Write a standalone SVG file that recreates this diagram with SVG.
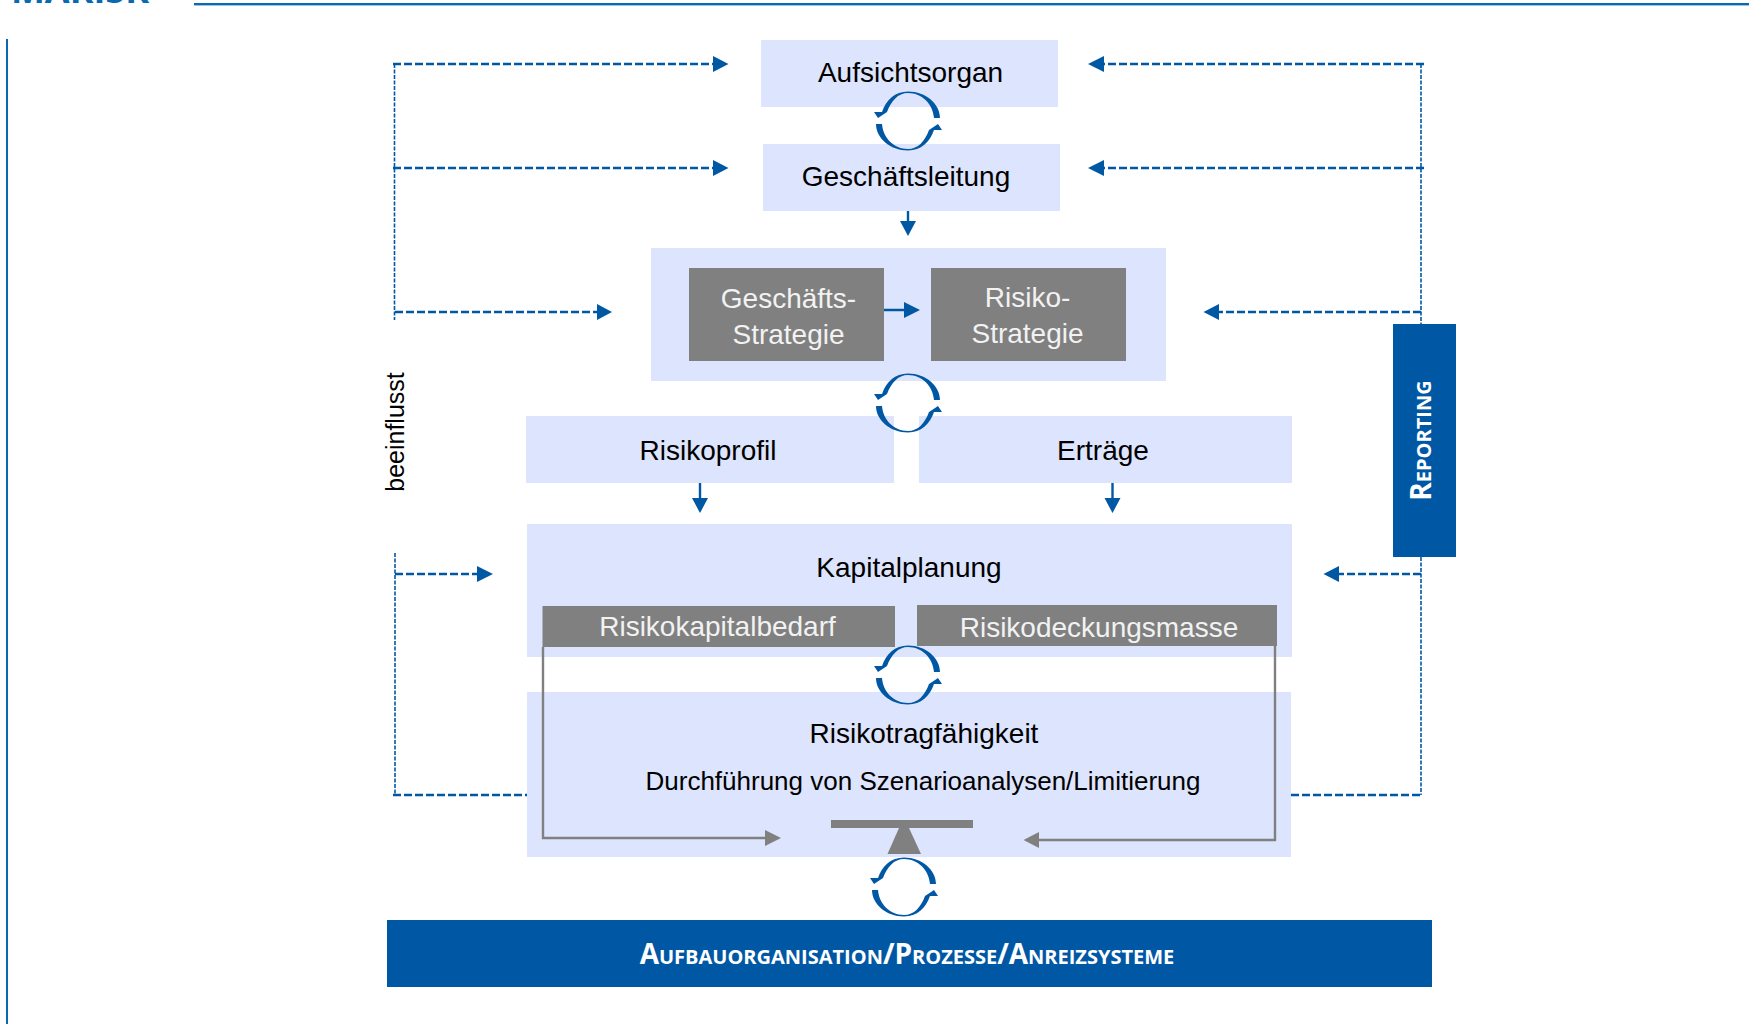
<svg xmlns="http://www.w3.org/2000/svg" width="1749" height="1024" viewBox="0 0 1749 1024">
<style>
text{font-family:"Liberation Sans",Arial,sans-serif;text-anchor:middle}
.lb{fill:#dde4fd}.gr{fill:#808080}.bl{fill:#0058a5}
.t{font-size:28px;fill:#000}.w{font-size:28px;fill:#f2f2f2}
.sc{font-family:"Open Sans","Noto Sans",sans-serif;font-weight:700;font-variant:small-caps;fill:#fff;font-size:28px}
.dash{fill:none;stroke:#0058a5;stroke-width:2.6;stroke-dasharray:8 3}
.dot{fill:none;stroke:#0058a5;stroke-width:1.6;stroke-dasharray:4 1.5}
.sol{fill:none;stroke:#0058a5;stroke-width:2.4}
.g{fill:none;stroke:#808080;stroke-width:2.4}
</style>
<defs>
<g id="half"><path class="bl" d="M32,-3 C32,-17 18,-29.5 0,-29.5 C-13,-29.5 -22,-21 -26,-9 L-34,-9 L-30,-3 L-21,-9 C-17,-20 -10,-28 0,-28 C14,-28 25,-17 26,-3Z"/></g>
<g id="cycle"><use href="#half"/><use href="#half" transform="rotate(180)"/></g>
</defs>
<text x="80" y="3" style="font-family:'Open Sans',sans-serif;font-weight:700;font-size:36px;fill:#0a6ab0">MARISK</text>
<rect x="194" y="3" width="1555" height="2.4" fill="#0a6ab0"/>
<rect x="6" y="39" width="2" height="985" fill="#0a6ab0"/>

<g id="n-aufsichtsorgan"><rect class="lb" x="761" y="40" width="297" height="67"/><text class="t" x="910.5" y="82">Aufsichtsorgan</text></g>
<g id="n-geschaeftsleitung"><rect class="lb" x="763" y="144" width="297" height="67"/><text class="t" x="906" y="186">Geschäftsleitung</text></g>
<g id="n-strategie"><rect class="lb" x="651" y="248" width="515" height="133"/></g>
<g id="n-geschaeftsstrategie"><rect class="gr" x="689" y="268" width="195" height="93"/><text class="w" x="788.5" y="308">Geschäfts-</text><text class="w" x="788.5" y="344">Strategie</text></g>
<g id="n-risikostrategie"><rect class="gr" x="931" y="268" width="195" height="93"/><text class="w" x="1027.5" y="307">Risiko-</text><text class="w" x="1027.5" y="343">Strategie</text></g>
<g id="n-risikoprofil"><rect class="lb" x="526" y="416" width="368" height="67"/><text class="t" x="708" y="460">Risikoprofil</text></g>
<g id="n-ertraege"><rect class="lb" x="919" y="416" width="373" height="67"/><text class="t" x="1103" y="460">Erträge</text></g>
<g id="n-kapitalplanung"><rect class="lb" x="527" y="524" width="765" height="133"/><text class="t" x="909" y="577">Kapitalplanung</text></g>
<g id="n-risikotragfaehigkeit"><rect class="lb" x="527" y="692" width="764" height="165"/><text class="t" x="924" y="743">Risikotragfähigkeit</text><text class="t" style="font-size:26px" x="923" y="790">Durchführung von Szenarioanalysen/Limitierung</text></g>
<g id="n-risikokapitalbedarf"><rect class="gr" x="542.5" y="606" width="352.5" height="41"/><text class="w" x="717.5" y="636">Risikokapitalbedarf</text></g>
<g id="n-risikodeckungsmasse"><rect class="gr" x="917" y="605" width="360" height="41"/><text class="w" x="1099" y="637">Risikodeckungsmasse</text></g>
<g id="n-waage"><rect class="gr" x="831" y="820" width="142" height="8"/><path class="gr" d="M899,828H909L921,854H887.5Z"/></g>
<g id="n-reporting"><rect class="bl" x="1393" y="324" width="63" height="233"/><text class="sc" transform="translate(1431,440.5) rotate(-90)" x="0" y="0">Reporting</text></g>
<g id="n-aufbau"><rect class="bl" x="387" y="920" width="1045" height="67"/><text class="sc" x="907" y="964">Aufbauorganisation/Prozesse/Anreizsysteme</text></g>
<text id="l-beeinflusst" class="t" style="font-size:25px" transform="translate(404,432) rotate(-90)">beeinflusst</text>

<g id="connectors">
<path class="dash" d="M393,64H713M393,168H713M395,312H597M395,574H477M393,795H527"/>
<path class="dot" d="M394.5,64V320M395,553V795"/>
<path class="bl" d="M713,56L728.5,64L713,72ZM713,160L728.5,168L713,176ZM597,304L612,312L597,320ZM477,566L493,574L477,582Z"/>
<path class="dash" d="M1424,64H1104M1424,168H1104M1421,312H1219M1421,574H1339M1291,795H1423"/>
<path class="dot" d="M1421,64V324M1421,557V795"/>
<path class="bl" d="M1104,56L1088,64L1104,72ZM1104,160L1088,168L1104,176ZM1219,304L1203.5,312L1219,320ZM1339,566L1323.5,574L1339,582Z"/>
<path class="sol" d="M908,211V222M884,310H905M700,483V499M1112.5,483V499"/>
<path class="bl" d="M900,221H916L908,236ZM904,302L920,310L904,318ZM692,498H708L700,513ZM1104.5,498H1120.5L1112.5,513Z"/>
<path class="g" d="M543,647V838H766M1275,646V840H1038"/>
<path class="gr" d="M765,830L781,838L765,846ZM1039,832L1023.5,840L1039,848Z"/>
<use href="#cycle" transform="translate(908,121)"/>
<use href="#cycle" transform="translate(908,403)"/>
<use href="#cycle" transform="translate(908,675)"/>
<use href="#cycle" transform="translate(904,887)"/>
</g>
</svg>
